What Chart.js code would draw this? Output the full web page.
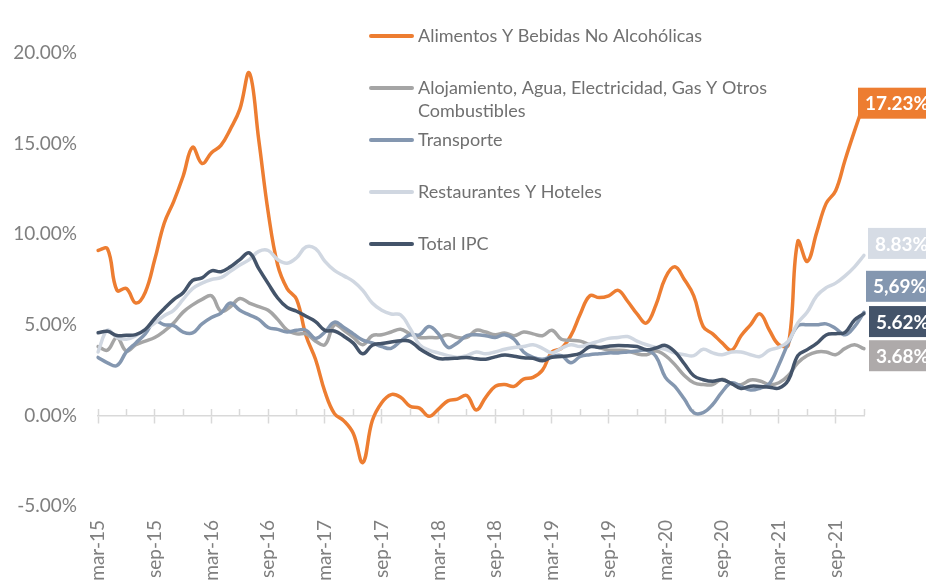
<!DOCTYPE html>
<html>
<head>
<meta charset="utf-8">
<script src="https://cdn.jsdelivr.net/npm/chart.js@4/dist/chart.umd.min.js"></script>
<style>
  html, body { margin: 0; padding: 0; background: #fff; }
  #wrap { width: 926px; height: 585px; }
</style>
</head>
<body>
<div id="wrap"><canvas id="ipcChart" width="926" height="585"></canvas></div>
<script>
// monthly labels mar-15 .. dic-21
const monthNames = ['ene', 'feb', 'mar', 'abr', 'may', 'jun', 'jul', 'ago', 'sep', 'oct', 'nov', 'dic'];
const labels = [];
for (let i = 0; i < 82; i++) {
  const m = (2 + i) % 12;
  const yr = 15 + Math.floor((2 + i) / 12);
  labels.push(monthNames[m] + '-' + yr);
}

const seriesNames = [
  'Alimentos Y Bebidas No Alcohólicas',
  ['Alojamiento, Agua, Electricidad, Gas Y Otros', 'Combustibles'],
  'Transporte',
  'Restaurantes Y Hoteles',
  'Total IPC'
];

const alimentos = [
  9.1, 9.2, 6.9, 7.0, 6.2, 6.8, 8.6, 10.6, 11.8, 13.2, 14.8, 13.9,
  14.5, 14.9, 15.8, 16.9, 18.9, 15.2, 11.2, 8.3, 7.0, 6.4, 4.4, 3.1,
  1.3, 0.1, -0.3, -1.0, -2.6, -0.3, 0.7, 1.15, 1.0, 0.5, 0.4, -0.05,
  0.35, 0.8, 0.9, 1.1, 0.3, 1.0, 1.6, 1.7, 1.6, 2.0, 2.1, 2.5,
  3.5, 3.7, 4.4, 5.6, 6.6, 6.5, 6.6, 6.9, 6.3, 5.6, 5.1, 6.1,
  7.6, 8.2, 7.5, 6.6, 4.9, 4.5, 4.0, 3.6, 4.4, 5.0, 5.6, 4.7,
  3.9, 3.9, 9.6, 8.5, 10.1, 11.7, 12.4, 14.1, 15.7, 17.23
];
const alojamiento = [
  3.8, 3.6, 4.3, 3.55, 3.9, 4.1, 4.3, 4.65, 5.1, 5.7, 6.1, 6.4,
  6.6, 5.75, 6.0, 6.45, 6.2, 6.0, 5.8, 5.3, 4.7, 4.5, 4.5, 4.1,
  3.9, 5.0, 4.7, 4.3, 3.9, 4.4, 4.45, 4.6, 4.75, 4.5, 4.3, 4.3,
  4.3, 4.45, 4.3, 4.3, 4.7, 4.6, 4.45, 4.55, 4.4, 4.6, 4.5, 4.4,
  4.7, 4.2, 4.15, 4.1, 3.9, 3.75, 3.6, 3.6, 3.55, 3.4, 3.35, 3.55,
  3.3, 2.8, 2.2, 1.8, 1.7, 1.7, 2.0, 1.75, 1.7, 1.95, 1.9, 1.7,
  1.8, 2.2, 2.9, 3.3, 3.5, 3.5, 3.35, 3.7, 3.9, 3.68
];
const transporte = [
  3.2, 2.9, 2.75, 3.5, 4.0, 4.5, 5.2, 5.0, 4.95, 4.6, 4.55, 5.05,
  5.4, 5.65, 6.2, 5.8, 5.55, 5.3, 4.85, 4.75, 4.6, 4.7, 4.7, 4.25,
  4.6, 5.15, 4.85, 4.5, 4.15, 4.0, 3.8, 3.7, 4.1, 4.45, 4.45, 4.9,
  4.5, 3.75, 4.0, 4.4, 4.45, 4.4, 4.3, 4.45, 4.2, 3.5, 3.2, 3.1,
  3.25, 3.3, 2.9, 3.25, 3.35, 3.4, 3.45, 3.45, 3.5, 3.55, 3.6, 3.25,
  2.1, 1.6, 0.9, 0.15, 0.15, 0.6, 1.3, 1.8, 1.6, 1.4, 1.5, 1.75,
  2.8, 4.0, 4.95, 5.0, 5.0, 5.05, 4.8, 4.45, 4.9, 5.69
];
const restaurantes = [
  3.5, 4.7, 4.3, 4.2, 4.4, 4.75, 5.1, 5.5, 5.8, 6.4, 7.0, 7.3,
  7.5, 7.6, 7.95, 8.3, 8.6, 9.05, 9.1, 8.6, 8.4, 8.7, 9.3, 9.2,
  8.5, 8.0, 7.7, 7.4, 6.9, 6.2, 5.8, 5.6, 5.55, 4.8, 3.9, 3.6,
  3.45, 3.3, 3.2, 3.3, 3.5, 3.4, 3.5, 3.65, 3.75, 3.8, 3.9, 3.7,
  3.45, 3.7, 3.9, 3.8, 3.95, 4.1, 4.25, 4.3, 4.35, 4.1, 3.9, 3.75,
  3.65, 3.45, 3.35, 3.3, 3.65, 3.45, 3.35, 3.5, 3.5, 3.35, 3.25, 3.6,
  3.75, 4.1, 5.1, 5.7, 6.6, 7.05, 7.3, 7.7, 8.2, 8.83
];
const totalIpc = [
  4.56, 4.64, 4.41, 4.42, 4.46, 4.74, 5.35, 5.89, 6.39, 6.77, 7.45, 7.59,
  7.98, 7.93, 8.20, 8.60, 8.97, 8.10, 7.27, 6.48, 5.96, 5.75, 5.47, 5.18,
  4.69, 4.66, 4.37, 3.99, 3.40, 3.87, 3.97, 4.05, 4.12, 4.09, 3.68, 3.37,
  3.14, 3.13, 3.16, 3.20, 3.12, 3.10, 3.23, 3.33, 3.27, 3.18, 3.15, 3.01,
  3.21, 3.25, 3.31, 3.43, 3.79, 3.75, 3.82, 3.86, 3.84, 3.80, 3.62, 3.72,
  3.86, 3.51, 2.85, 2.19, 1.97, 1.88, 1.97, 1.75, 1.49, 1.61, 1.60, 1.56,
  1.51, 1.95, 3.30, 3.63, 3.97, 4.44, 4.51, 4.58, 5.26, 5.62
];

// text of the boxes at the end of each line
const endLabelText = ['17.23%', '3.68%', '5,69%', '8.83%', '5.62%'];

const colors = ['#ED7D31', '#A5A5A5', '#8497B0', '#D0D7E1', '#44546A'];
const boxColors = ['#ED7D31', '#AEAAAA', '#8497B0', '#D6DCE5', '#44546A'];
const boxShift = [[-6, 0], [5, 7], [2, -26], [4, -12], [5, 8]];

const axisGray = '#d9d9d9';
const textGray = '#7f7f7f';

Chart.defaults.font.family = 'Lato';
Chart.defaults.font.size = 19;
Chart.defaults.color = textGray;

function makeLine(name, values, i) {
  return {
    label: name,
    data: values,
    borderColor: colors[i],
    backgroundColor: colors[i],
    borderWidth: 3.5,
    borderCapStyle: 'round',
    borderJoinStyle: 'round',
    pointRadius: 0,
    tension: 0.4,
    fill: false,
    order: 5 - i
  };
}

const legendPlugin = {
  id: 'sideLegend',
  afterDraw(chart) {
    const ctx = chart.ctx;
    ctx.save();
    ctx.font = '18px Lato';
    ctx.textBaseline = 'middle';
    ctx.textAlign = 'left';
    chart.data.datasets.forEach((ds, i) => {
      const y = 36 + i * 52;
      ctx.strokeStyle = ds.borderColor;
      ctx.lineWidth = 4;
      ctx.lineCap = 'round';
      ctx.beginPath();
      ctx.moveTo(371, y);
      ctx.lineTo(412, y);
      ctx.stroke();
      ctx.fillStyle = '#707070';
      const lines = Array.isArray(ds.label) ? ds.label : [ds.label];
      lines.forEach((t, k) => ctx.fillText(t, 418, y + k * 23));
    });
    ctx.restore();
  }
};

const endLabelPlugin = {
  id: 'endLabels',
  afterDatasetsDraw(chart) {
    const ctx = chart.ctx;
    ctx.save();
    ctx.font = 'bold 19px Lato';
    ctx.textBaseline = 'middle';
    ctx.textAlign = 'left';
    chart.data.datasets.forEach((ds, i) => {
      const meta = chart.getDatasetMeta(i);
      const pt = meta.data[meta.data.length - 1];
      const x = pt.x + boxShift[i][0];
      const yc = pt.y + boxShift[i][1];
      ctx.fillStyle = boxColors[i];
      ctx.fillRect(x, yc - 15.5, 90, 31);
      ctx.fillStyle = '#ffffff';
      ctx.fillText(endLabelText[i], x + 7, yc + 1);
    });
    ctx.restore();
  }
};

const ctx = document.getElementById('ipcChart').getContext('2d');
new Chart(ctx, {
  type: 'line',
  data: {
    labels: labels,
    datasets: [
      makeLine(seriesNames[0], alimentos, 0),
      makeLine(seriesNames[1], alojamiento, 1),
      makeLine(seriesNames[2], transporte, 2),
      makeLine(seriesNames[3], restaurantes, 3),
      makeLine(seriesNames[4], totalIpc, 4)
    ]
  },
  options: {
    responsive: false,
    animation: false,
    layout: { padding: { top: 53, right: 62, left: 0, bottom: 0 } },
    plugins: {
      legend: { display: false },
      tooltip: { enabled: false }
    },
    scales: {
      x: {
        type: 'category',
        offset: false,
        grid: { display: false, drawTicks: false },
        border: { display: false },
        ticks: {
          autoSkip: false,
          maxRotation: 90,
          minRotation: 90,
          padding: 14,
          callback: function(value, index) {
            return index % 6 === 0 ? this.getLabelForValue(value) : '';
          }
        },
        afterFit: (scale) => { scale.height = 79; }
      },
      x2: {
        type: 'category',
        axis: 'x',
        position: { y: 0 },
        offset: false,
        ticks: { display: false, autoSkip: false },
        border: { display: true, color: axisGray, width: 1.5 },
        grid: {
          drawOnChartArea: false,
          tickLength: 7,
          tickWidth: 1.5,
          tickColor: (c) => (c.index % 6 === 0 ? axisGray : 'rgba(0,0,0,0)')
        }
      },
      x3: {
        type: 'category',
        axis: 'x',
        position: { y: 0 },
        offset: false,
        ticks: { display: false, autoSkip: false },
        border: { display: false },
        grid: {
          drawOnChartArea: false,
          tickLength: -6,
          tickWidth: 1.5,
          tickColor: (c) => (c.index % 3 === 0 ? axisGray : 'rgba(0,0,0,0)')
        }
      },
      y: {
        min: -5,
        max: 20,
        grid: { display: false, drawTicks: false },
        border: { display: false },
        ticks: {
          stepSize: 5,
          padding: 21,
          callback: (v) => v.toFixed(2) + '%'
        },
        afterFit: (scale) => { scale.width = 98; }
      }
    }
  },
  plugins: [legendPlugin, endLabelPlugin]
});
</script>
</body>
</html>
